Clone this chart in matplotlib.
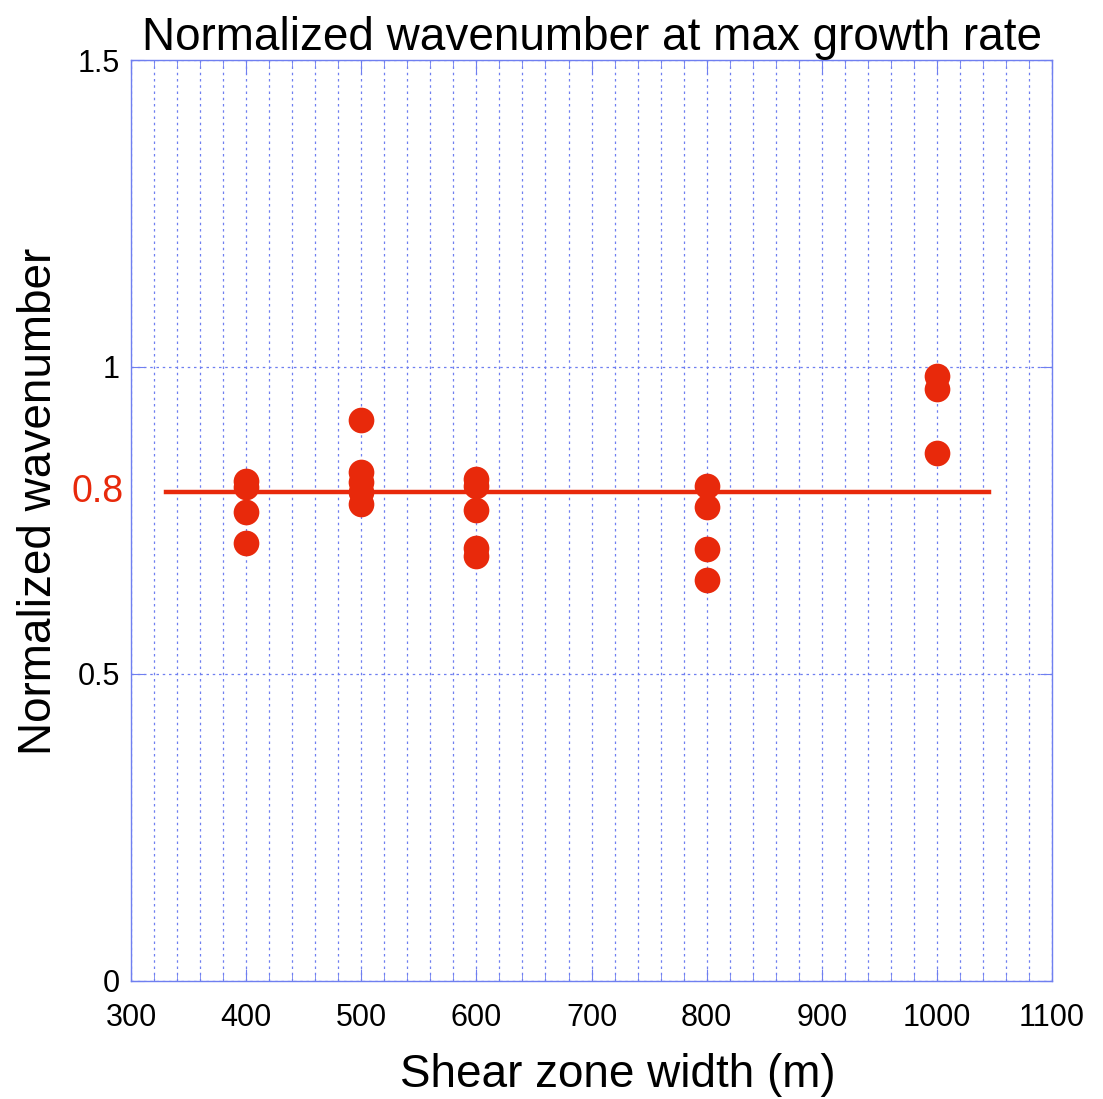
import numpy as np
import matplotlib
matplotlib.use("Agg")
import matplotlib.pyplot as plt
from matplotlib.ticker import MultipleLocator

plt.rcParams["font.family"] = ["Liberation Sans", "DejaVu Sans"]

# shear zone width (m) and normalized wavenumber at max growth rate
width_400 = [400, 400, 400, 400]
wave_400 = [0.814, 0.805, 0.764, 0.713]
width_500 = [500, 500, 500, 500, 500]
wave_500 = [0.914, 0.829, 0.813, 0.796, 0.777]
width_600 = [600, 600, 600, 600, 600]
wave_600 = [0.818, 0.806, 0.767, 0.705, 0.692]
width_800 = [800, 800, 800, 800]
wave_800 = [0.806, 0.772, 0.704, 0.653]
width_1000 = [1000, 1000, 1000]
wave_1000 = [0.985, 0.964, 0.860]

fit_x = [330, 1045]
fit_y = [0.796, 0.796]

red = "#e8290b"
blue = "#6f7ff0"

fig = plt.figure(figsize=(11.03, 10.99), dpi=100)
ax = fig.add_axes([0.1188, 0.1074, 0.8350, 0.8380])

xs = width_400 + width_500 + width_600 + width_800 + width_1000
ys = wave_400 + wave_500 + wave_600 + wave_800 + wave_1000
ax.plot(xs, ys, "o", color=red, markersize=18.5, markeredgewidth=0, zorder=3)
ax.plot(fit_x, fit_y, "-", color=red, linewidth=3.2, zorder=2)

ax.set_xlim(300, 1100)
ax.set_ylim(0, 1.5)
ax.xaxis.set_major_locator(MultipleLocator(100))
ax.xaxis.set_minor_locator(MultipleLocator(20))
ax.set_yticks([0, 0.5, 1, 1.5])
ax.set_yticklabels(["0", "0.5", "1", "1.5"])

ax.grid(True, which="both", axis="x", color=blue, linestyle=(0, (2, 3)), linewidth=0.9)
ax.grid(True, which="major", axis="y", color=blue, linestyle=(0, (2, 3)), linewidth=0.9)
ax.set_axisbelow(True)

for s in ax.spines.values():
    s.set_color(blue)
    s.set_linewidth(1.0)
ax.tick_params(which="both", direction="in", color=blue, top=True, right=True,
               labelsize=22)
ax.tick_params(axis="x", pad=16)
ax.tick_params(axis="y", pad=8)
ax.tick_params(which="major", length=9)
ax.tick_params(which="minor", length=5)

ax.text(-0.008, 0.796, "0.8", color=red, fontsize=27, ha="right", va="center",
        transform=ax.get_yaxis_transform())

ax.set_title("Normalized wavenumber at max growth rate", fontsize=33, pad=2)
ax.set_xlabel("Shear zone width (m)", fontsize=33, labelpad=14)
ax.set_ylabel("Normalized wavenumber", fontsize=33, labelpad=12)
ax.xaxis.label.set_x(0.528)
ax.yaxis.label.set_y(0.521)

fig.savefig("out.png", dpi=100)
